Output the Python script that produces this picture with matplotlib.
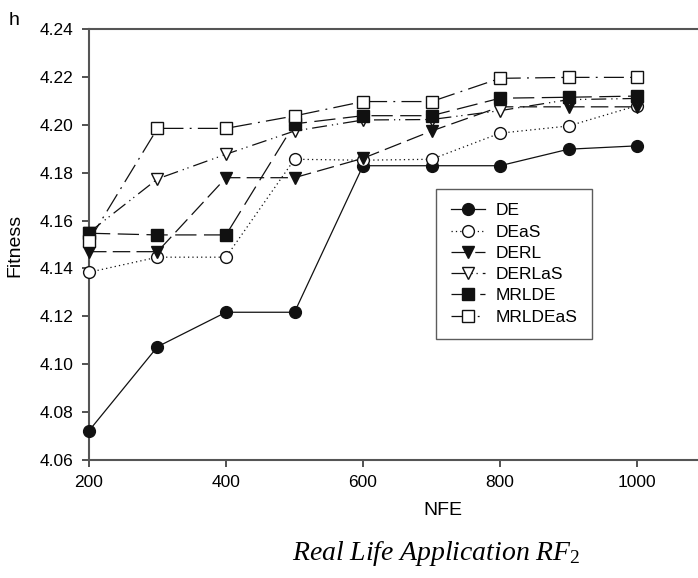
import matplotlib
matplotlib.use('Agg')
import matplotlib.pyplot as plt

nfe = [200, 300, 400, 500, 600, 700, 800, 900, 1000]

de      = [4.0722, 4.1073, 4.1217, 4.1217, 4.1829, 4.1829, 4.1829, 4.1898, 4.1912]
deas    = [4.1384, 4.1447, 4.1447, 4.1856, 4.1852, 4.1856, 4.1965, 4.1995, 4.2080]
derl    = [4.1470, 4.1470, 4.1779, 4.1779, 4.1860, 4.1974, 4.2075, 4.2075, 4.2075]
derlas  = [4.1550, 4.1774, 4.1877, 4.1974, 4.2020, 4.2022, 4.2059, 4.2105, 4.2110]
mrlde   = [4.1547, 4.1540, 4.1540, 4.2004, 4.2038, 4.2038, 4.2111, 4.2115, 4.2120]
mrldeas = [4.1516, 4.1985, 4.1985, 4.2037, 4.2097, 4.2097, 4.2194, 4.2198, 4.2198]

labels = ['DE', 'DEaS', 'DERL', 'DERLaS', 'MRLDE', 'MRLDEaS']
yticks = [4.06, 4.08, 4.10, 4.12, 4.14, 4.16, 4.18, 4.20, 4.22, 4.24]

plt.rcParams['font.family'] = ['Liberation Sans', 'DejaVu Sans']
plt.rcParams['mathtext.fontset'] = 'custom'
plt.rcParams['mathtext.it'] = 'Liberation Serif:italic'
plt.rcParams['mathtext.rm'] = 'Liberation Serif'

fig = plt.figure(figsize=(6.98, 5.78), dpi=100)
ax = fig.add_axes([0.1275, 0.2042, 0.8833, 0.7456])

lw = 0.9
styles = [
    dict(linestyle='-', marker='o', mfc='#111111', mec='#111111', ms=8.5),
    dict(linestyle=(0, (1, 2.5)), marker='o', mfc='white', mec='#111111', ms=8.5),
    dict(linestyle=(0, (14, 5)), marker='v', mfc='#111111', mec='#111111', ms=9),
    dict(linestyle=(0, (12, 4, 1, 3, 1, 4)), marker='v', mfc='white', mec='#111111', ms=9),
    dict(linestyle=(0, (17, 6)), marker='s', mfc='#111111', mec='#111111', ms=8),
    dict(linestyle=(0, (16, 5, 1.5, 5)), marker='s', mfc='white', mec='#111111', ms=8),
]
series = [de, deas, derl, derlas, mrlde, mrldeas]
for vals, lab, st in zip(series, labels, styles):
    ax.plot(nfe, vals, color='#111111', lw=lw, mew=1.0, label=lab,
            clip_on=False, zorder=3, **st)

ax.set_xlim(200, 1100)
ax.set_ylim(4.06, 4.24)
ax.set_xticks([200, 400, 600, 800, 1000])
ax.set_yticks(yticks)
ax.set_yticklabels(['%.2f' % v for v in yticks])

for s in ['left', 'top', 'bottom']:
    ax.spines[s].set_color('#555555')
    ax.spines[s].set_linewidth(1.5)
ax.spines['right'].set_visible(False)
ax.tick_params(direction='out', length=5, width=1.2, color='#333333',
               labelsize=12.5, pad=6)

fig.text(0.022, 0.576, 'Fitness', rotation=90, ha='center', va='center', fontsize=14)
fig.text(0.635, 0.117, 'NFE', ha='center', va='center', fontsize=14)
fig.text(0.013, 0.965, 'h', ha='left', va='center', fontsize=14)
fig.text(0.625, 0.043, r'$Real\ Life\ Application\ RF_2$', ha='center', va='center',
         fontsize=20)

leg = ax.legend(loc='upper left', bbox_to_anchor=(0.5485, 0.650), fontsize=12.5,
                frameon=True, fancybox=False, edgecolor='#333333',
                handlelength=2.0, borderpad=0.85, labelspacing=0.35,
                handletextpad=0.6)
leg.get_frame().set_linewidth(1.0)

fig.savefig('out.png', dpi=100)
